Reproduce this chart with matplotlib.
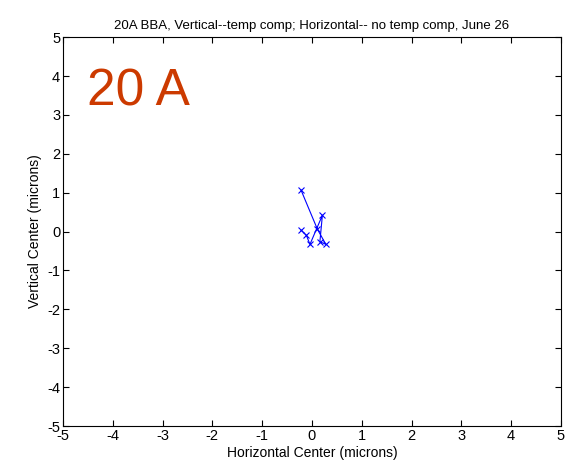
import matplotlib
matplotlib.use("Agg")
import matplotlib.pyplot as plt

plt.rcParams['font.family'] = ['Liberation Sans', 'DejaVu Sans']
plt.rcParams['axes.unicode_minus'] = False

title = "20A BBA, Vertical--temp comp; Horizontal-- no temp comp, June 26"
xlabel = "Horizontal Center (microns)"
ylabel = "Vertical Center (microns)"
label_text = "20 A"

horiz = [-0.22, 0.11, 0.28, 0.16, 0.21, -0.04, -0.11, -0.22]
vert = [1.07, 0.06, -0.33, -0.26, 0.42, -0.33, -0.10, 0.04]

ticks = [-5, -4, -3, -2, -1, 0, 1, 2, 3, 4, 5]

fig = plt.figure(figsize=(5.7, 4.7), dpi=100)
ax = fig.add_axes([0.1105, 0.0936, 0.8735, 0.8274])
ax.plot(horiz, vert, color='#0000ff', linewidth=0.8, marker='x',
        markersize=5, markeredgewidth=0.8)
ax.set_xlim(-5, 5)
ax.set_ylim(-5, 5)
ax.set_xticks(ticks)
ax.set_yticks(ticks)
ax.tick_params(direction='in', length=4, labelsize=10.5, width=0.8,
               top=True, right=True, pad=2)
for s in ax.spines.values():
    s.set_linewidth(0.8)
ax.set_title(title, fontsize=9.5, pad=6)
ax.set_xlabel(xlabel, fontsize=10, labelpad=2)
ax.set_ylabel(ylabel, fontsize=10, labelpad=4)
ax.text(-4.52, 3.25, label_text, fontsize=37, color='#cc3a00',
        ha='left', va='baseline')

fig.savefig('out.png', dpi=100)
